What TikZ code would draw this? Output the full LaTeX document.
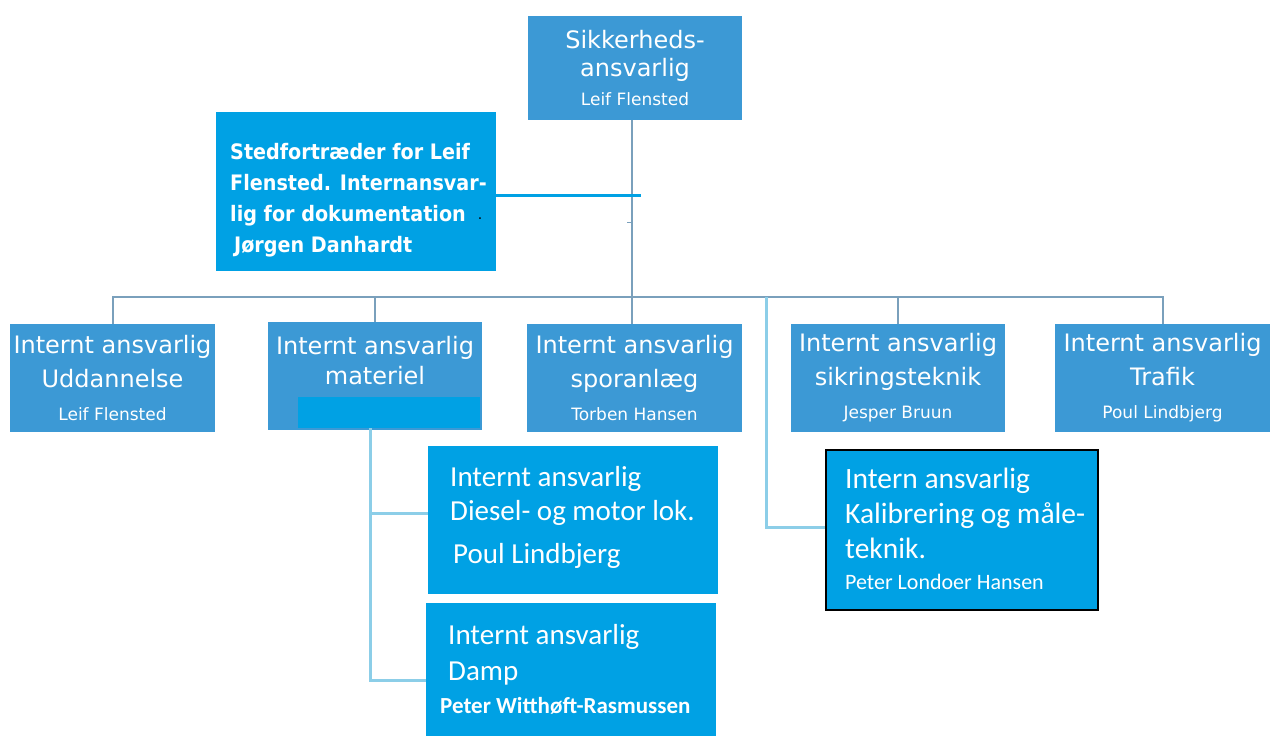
\documentclass[tikz,border=0pt]{standalone}
\usepackage{fontspec}
\setmainfont{DejaVu Sans}
\newfontfamily\condbold{DejaVu Sans Condensed Bold}
\newfontfamily\cali{Carlito}
\definecolor{medblue}{RGB}{60,153,213}
\definecolor{brightblue}{RGB}{0,161,228}
\definecolor{treeline}{RGB}{122,160,188}
\definecolor{lightline}{RGB}{140,206,232}
\tikzset{
  orgbox/.style={fill=medblue, text=white, inner sep=0pt, align=center},
  brightbox/.style={fill=brightblue, inner sep=0pt},
  lefttext/.style={text=white, inner sep=0pt, align=left, anchor=west},
  tree/.style={draw=treeline, line width=2pt},
  subtree/.style={draw=lightline, line width=3pt},
}
\newcommand{\nm}{\fontsize{17}{20}\selectfont}
\begin{document}
\begin{tikzpicture}[x=1pt,y=-1pt]
\useasboundingbox (0,0) rectangle (1274,736);
% top box
\node[orgbox, minimum width=214pt, minimum height=104pt, font=\fontsize{24}{28}\selectfont] (top) at (635,68)
  {Sikkerheds-\\ ansvarlig\\[1pt] {\nm Leif Flensted}};
% deputy box
\node[brightbox, minimum width=280pt, minimum height=159pt] (dep) at (356,191.5) {};
\node[lefttext, font=\condbold\fontsize{21.3}{31}\selectfont] (dept) at (230,200)
  {Stedfortræder for Leif\\ Flensted. Internansvar-\\ lig for dokumentation\\ \hspace*{4pt}Jørgen Danhardt};
\node[inner sep=0pt, font=\fontsize{14}{14}\selectfont] (dot) at (480,219) {.};
% row boxes
\node[orgbox, minimum width=205pt, minimum height=108pt, font=\fontsize{24}{34}\selectfont] (b1) at (112.5,378)
  {Internt ansvarlig\\ Uddannelse\\[-1pt] {\nm Leif Flensted}};
\node[orgbox, minimum width=214pt, minimum height=108pt] (b2) at (375,376) {};
\node[fill=brightblue, minimum width=182pt, minimum height=31pt, inner sep=0pt] (b2in) at (389,412.5) {};
\node[text=white, inner sep=0pt, align=center, font=\fontsize{24}{30}\selectfont] (b2t) at (375,361)
  {Internt ansvarlig\\ materiel};
\node[orgbox, minimum width=215pt, minimum height=108pt, font=\fontsize{24}{34}\selectfont] (b3) at (634.5,378)
  {Internt ansvarlig\\ sporanlæg\\[-1pt] {\nm Torben Hansen}};
\node[orgbox, minimum width=214pt, minimum height=108pt, font=\fontsize{24}{34}\selectfont] (b4) at (898,378)
  {Internt ansvarlig\\ sikringsteknik\\[-1pt] {\nm Jesper Bruun}};
\node[orgbox, minimum width=215pt, minimum height=108pt, font=\fontsize{24}{34}\selectfont] (b5) at (1162.5,378)
  {Internt ansvarlig\\ Trafik\\[-1pt] {\nm Poul Lindbjerg}};
% sub boxes
\node[brightbox, minimum width=290pt, minimum height=148pt] (diesel) at (573,520) {};
\node[lefttext, font=\cali\fontsize{29}{34}\selectfont] (dieselt) at (450,517)
  {Internt ansvarlig\\ Diesel- og motor lok.\\[9pt] \hspace*{3pt}Poul Lindbjerg};
\node[brightbox, minimum width=290pt, minimum height=133pt] (damp) at (571,669.5) {};
\node[lefttext, font=\cali\fontsize{29}{36}\selectfont] (dampt) at (448,669)
  {Internt ansvarlig\\ Damp\\[-3pt] \hspace*{-8pt}{\bfseries\fontsize{23}{26}\selectfont Peter Witthøft-Rasmussen}};
\node[brightbox, draw=black, line width=1.5pt, minimum width=272pt, minimum height=160pt] (kal) at (962,530) {};
\node[lefttext, font=\cali\fontsize{29.5}{35}\selectfont] (kalt) at (845,529)
  {Intern ansvarlig\\ Kalibrering og måle-\\ teknik.\\[-4pt] {\fontsize{22}{26}\selectfont Peter Londoer Hansen}};
% connectors
\coordinate (trunkbar) at (632,297);
\draw[tree] (top.south -| trunkbar) -- (trunkbar);
\coordinate (tick) at (627,222);
\draw[treeline, line width=1pt] (tick) -- ++(5,0);
\draw[tree] (b1.north) |- (trunkbar) -| (b5.north);
\draw[tree] (b2.north) -- (b2.north |- trunkbar);
\draw[tree] (b3.north -| trunkbar) -- (trunkbar);
\draw[tree] (b4.north) -- (b4.north |- trunkbar);
\coordinate (deptap) at (641,195);
\draw[brightblue, line width=3pt] (dep.east |- deptap) -- (deptap);
\coordinate (kaltop) at (766,297);
\draw[subtree] (kaltop) |- (kal.west |- 0,527);
\coordinate (mattop) at (370,428);
\draw[subtree] (mattop) |- (damp.west |- 0,680);
\draw[subtree] (mattop |- 0,513) -- (diesel.west |- 0,513);
\end{tikzpicture}
\end{document}
